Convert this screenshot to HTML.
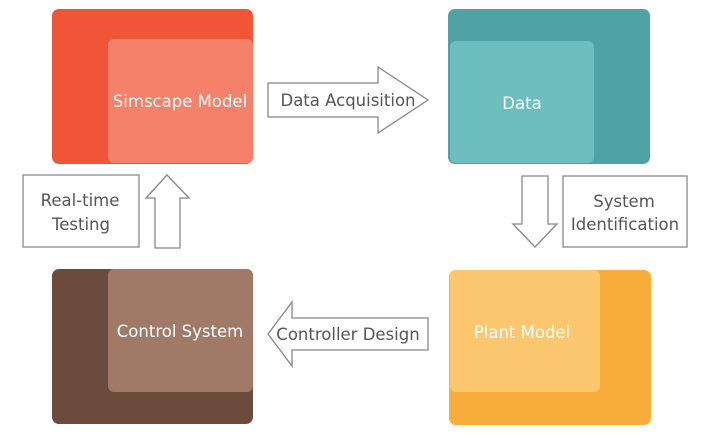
<!DOCTYPE html>
<html><head><style>
body{margin:0;background:#fff;width:720px;height:434px;overflow:hidden}
svg text{font-family:"DejaVu Sans","Liberation Sans",sans-serif;}
</style></head><body>
<svg width="720" height="434" viewBox="0 0 720 434" xmlns="http://www.w3.org/2000/svg">
<rect x="52" y="9" width="201" height="155" rx="7" fill="#f05537"/>
<rect x="108" y="39" width="145" height="124" rx="6" fill="#f4826a"/>
<text x="180" y="107" fill="#fff" font-size="16.5" text-anchor="middle">Simscape Model</text>

<rect x="448" y="9" width="202" height="155" rx="7" fill="#4fa3a5"/>
<rect x="450" y="41" width="144" height="122" rx="6" fill="#6dbfbf"/>
<text x="522" y="109" fill="#fff" font-size="16.5" text-anchor="middle">Data</text>

<rect x="52" y="269" width="201" height="155" rx="7" fill="#6a4b3c"/>
<rect x="108" y="269" width="145" height="123" rx="6" fill="#a07a66"/>
<text x="180" y="337" fill="#fff" font-size="16.5" text-anchor="middle">Control System</text>

<rect x="449" y="270" width="202" height="155" rx="7" fill="#f8ad3a"/>
<rect x="450" y="270" width="150" height="122" rx="6" fill="#fdc76f"/>
<text x="522" y="338" fill="#fff" font-size="16.5" text-anchor="middle">Plant Model</text>

<g fill="#fff" stroke="#888" stroke-width="1.3">
<polygon points="268,83 378,83 378,67 428,100 378,133 378,117 268,117"/>
<polygon points="428,318 292,318 292,302 268,334 292,366 292,350 428,350"/>
<polygon points="155,248 155,198 146,198 167,175 189,198 180,198 180,248"/>
<polygon points="522,176 548,176 548,224 557,224 535,247 513,224 522,224"/>
<rect x="23" y="175" width="116" height="72"/>
<rect x="563" y="176" width="124" height="71"/>
</g>
<g fill="#555" font-size="16.5" text-anchor="middle">
<text x="348" y="106">Data Acquisition</text>
<text x="348" y="340">Controller Design</text>
<text x="80" y="206">Real-time</text>
<text x="81" y="230">Testing</text>
<text x="624" y="207">System</text>
<text x="625" y="230">Identification</text>
</g>
</svg>
</body></html>
